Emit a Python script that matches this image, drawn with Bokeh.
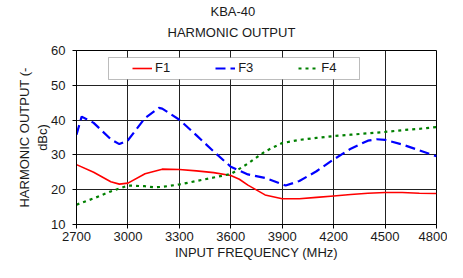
from bokeh.plotting import figure
from bokeh.models import (Range1d, FixedTicker, Title, Legend, LegendItem,
                          BoxAnnotation)
from bokeh.embed import file_html
from bokeh.resources import INLINE

# ---- data ----
freq_f1 = [2700, 2800, 2900, 2950, 3000, 3100, 3200, 3300, 3400, 3500, 3600,
           3650, 3700, 3800, 3900, 4000, 4100, 4200, 4300, 4400, 4500, 4600,
           4700, 4800]
f1 = [27.2, 25.0, 22.3, 21.6, 21.9, 24.6, 25.9, 25.8, 25.4, 24.9, 24.1,
      23.0, 21.3, 18.5, 17.4, 17.4, 17.8, 18.2, 18.6, 19.0, 19.2, 19.2,
      19.0, 18.9]

freq_f3 = [2700, 2730, 2800, 2900, 2950, 3000, 3100, 3180, 3200, 3300, 3400,
           3500, 3600, 3700, 3800, 3900, 3920, 4000, 4100, 4200, 4300, 4400,
           4450, 4500, 4600, 4700, 4800]
f3 = [35.8, 41.0, 39.2, 34.5, 33.1, 34.2, 40.6, 43.5, 43.3, 40.1, 35.6,
      31.0, 26.6, 24.4, 23.4, 21.6, 21.2, 22.5, 25.3, 28.7, 31.8, 34.1,
      34.5, 34.3, 33.0, 31.3, 29.6]

freq_f4 = [2700, 2800, 2900, 3000, 3100, 3150, 3200, 3300, 3400, 3500, 3600,
           3700, 3800, 3900, 4000, 4100, 4200, 4300, 4400, 4500, 4600, 4700,
           4800]
f4 = [15.7, 17.5, 19.5, 21.2, 21.0, 20.7, 20.8, 21.5, 22.5, 23.5, 24.5,
      27.5, 31.0, 33.4, 34.3, 34.9, 35.4, 35.8, 36.2, 36.6, 37.1, 37.5,
      38.0]

x_ticks = [2700, 3000, 3300, 3600, 3900, 4200, 4500, 4800]
y_ticks = [10, 20, 30, 40, 50, 60]

FONT = "Liberation Sans"
TXT = "#1a1a1a"

p = figure(width=447, height=262, output_backend="svg", toolbar_location=None,
           x_range=Range1d(2700, 4800), y_range=Range1d(10, 60),
           min_border_left=76, min_border_right=11, min_border_top=50,
           min_border_bottom=38, title=None)
p.background_fill_color = "white"
p.border_fill_color = "white"
p.outline_line_color = "black"
p.outline_line_width = 1

t1 = Title(text="HARMONIC OUTPUT", align="left", offset=91,
           text_font=FONT, text_font_size="13px", text_font_style="normal",
           text_color=TXT, standoff=22)
t2 = Title(text="KBA-40", align="left", offset=134,
           text_font=FONT, text_font_size="13px", text_font_style="normal",
           text_color=TXT, standoff=-14)
p.add_layout(t1, "above")
p.add_layout(t2, "above")

# axes
p.xaxis.ticker = FixedTicker(ticks=x_ticks)
p.yaxis.ticker = FixedTicker(ticks=y_ticks)
for ax in (p.xaxis[0], p.yaxis[0]):
    ax.major_tick_in = 0
    ax.major_tick_out = 4
    ax.minor_tick_line_color = None
    ax.axis_line_color = "black"
    ax.major_tick_line_color = "black"
    ax.major_label_text_font = FONT
    ax.major_label_text_font_size = "13px"
    ax.major_label_text_color = TXT
    ax.axis_label_text_font = FONT
    ax.axis_label_text_font_size = "13px"
    ax.axis_label_text_font_style = "normal"
    ax.axis_label_text_color = TXT
p.xaxis.axis_label = "INPUT FREQUENCY (MHz)"
p.xaxis.major_label_standoff = 3
p.xaxis.axis_label_standoff = 1
p.yaxis.axis_label = "HARMONIC OUTPUT (-\ndBc)"
p.yaxis.major_label_standoff = 7
p.yaxis.axis_label_standoff = -2

p.xgrid.ticker = FixedTicker(ticks=x_ticks)
p.ygrid.ticker = FixedTicker(ticks=y_ticks)
p.grid.grid_line_color = "#222222"
p.grid.grid_line_width = 1
p.grid.grid_line_alpha = 1

r1 = p.line(freq_f1, f1, line_color="#ff0000", line_width=1.6)
r3 = p.line(freq_f3, f3, line_color="#0000ff", line_width=2.2,
            line_dash="10 5")
r4 = p.line(freq_f4, f4, line_color="#008000", line_width=2.2,
            line_dash="3 4")

# legend frame
box = BoxAnnotation(left=32, right=283, top=167, bottom=145,
                    left_units="screen", right_units="screen",
                    top_units="screen", bottom_units="screen",
                    fill_color="white", fill_alpha=1,
                    line_color="#222222", line_width=1)
p.add_layout(box)

legend = Legend(items=[LegendItem(label="F1", renderers=[r1]),
                       LegendItem(label="F3", renderers=[r3]),
                       LegendItem(label="F4", renderers=[r4])],
                orientation="horizontal", location=(56, 149),
                padding=0, spacing=45, margin=0,
                glyph_width=20, glyph_height=14, label_height=14,
                label_width=15, label_standoff=3,
                label_text_font=FONT, label_text_font_size="13px",
                label_text_color=TXT,
                border_line_color=None, background_fill_alpha=0)
p.add_layout(legend, "center")

open("out.html", "w").write(file_html(p, INLINE))
